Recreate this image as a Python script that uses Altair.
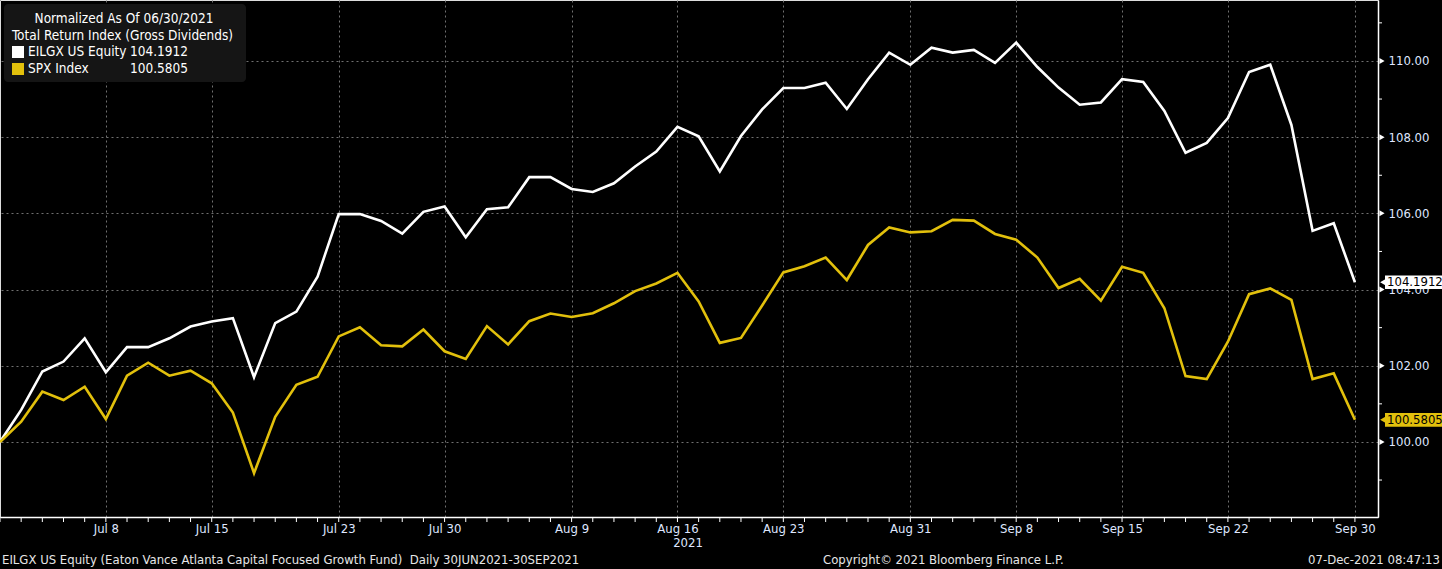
import altair as alt
import pandas as pd

# ---------------- data ----------------
dates = [
    "2021-06-30", "2021-07-01", "2021-07-02", "2021-07-06", "2021-07-07", "2021-07-08", "2021-07-09",
    "2021-07-12", "2021-07-13", "2021-07-14", "2021-07-15", "2021-07-16",
    "2021-07-19", "2021-07-20", "2021-07-21", "2021-07-22", "2021-07-23",
    "2021-07-26", "2021-07-27", "2021-07-28", "2021-07-29", "2021-07-30",
    "2021-08-02", "2021-08-03", "2021-08-04", "2021-08-05", "2021-08-06",
    "2021-08-09", "2021-08-10", "2021-08-11", "2021-08-12", "2021-08-13",
    "2021-08-16", "2021-08-17", "2021-08-18", "2021-08-19", "2021-08-20",
    "2021-08-23", "2021-08-24", "2021-08-25", "2021-08-26", "2021-08-27",
    "2021-08-30", "2021-08-31", "2021-09-01", "2021-09-02", "2021-09-03",
    "2021-09-07", "2021-09-08", "2021-09-09", "2021-09-10",
    "2021-09-13", "2021-09-14", "2021-09-15", "2021-09-16", "2021-09-17",
    "2021-09-20", "2021-09-21", "2021-09-22", "2021-09-23", "2021-09-24",
    "2021-09-27", "2021-09-28", "2021-09-29", "2021-09-30",
]

eilgx = [
    100.00, 100.84, 101.85, 102.11, 102.72, 101.83, 102.49, 102.49, 102.72, 103.03,
    103.16, 103.25, 101.70, 103.12, 103.42, 104.34, 105.98, 105.98, 105.80, 105.47,
    106.04, 106.18, 105.37, 106.11, 106.16, 106.95, 106.95, 106.64, 106.56, 106.79,
    107.23, 107.62, 108.27, 108.02, 107.10, 108.03, 108.73, 109.29, 109.29, 109.43,
    108.74, 109.52, 110.22, 109.90, 110.35, 110.22, 110.29, 109.95, 110.48, 109.84,
    109.30, 108.85, 108.91, 109.52, 109.45, 108.69, 107.59, 107.85, 108.50, 109.71,
    109.90, 108.32, 105.54, 105.74, 104.1912,
]

spx = [
    100.00, 100.53, 101.32, 101.10, 101.45, 100.60, 101.74, 102.08, 101.74, 101.87,
    101.54, 100.77, 99.18, 100.66, 101.50, 101.71, 102.77, 103.01, 102.54, 102.51,
    102.95, 102.38, 102.18, 103.04, 102.56, 103.17, 103.37, 103.28, 103.38, 103.64,
    103.96, 104.16, 104.44, 103.69, 102.60, 102.73, 103.58, 104.45, 104.61, 104.84,
    104.25, 105.17, 105.63, 105.50, 105.53, 105.83, 105.81, 105.46, 105.31, 104.84,
    104.04, 104.28, 103.71, 104.60, 104.44, 103.51, 101.73, 101.65, 102.63, 103.88,
    104.03, 103.73, 101.65, 101.80, 100.5805,
]

series_names = ["EILGX US Equity", "SPX Index"]
series_colors = ["#ffffff", "#e2c00c"]
last_labels = ["104.1912", "100.5805"]

tick_idx = [5, 10, 16, 21, 27, 32, 37, 43, 48, 53, 58, 64]
tick_labels = ["Jul 8", "Jul 15", "Jul 23", "Jul 30", "Aug 9", "Aug 16",
               "Aug 23", "Aug 31", "Sep 8", "Sep 15", "Sep 22", "Sep 30"]
y_major = [100, 102, 104, 106, 108, 110]
y_minor = [99, 101, 103, 105, 107, 109, 111]

legend_title = ["Normalized As Of 06/30/2021", "Total Return Index (Gross Dividends)"]
footer_left = "EILGX US Equity (Eaton Vance Atlanta Capital Focused Growth Fund)\u00a0 Daily 30JUN2021-30SEP2021"
footer_mid = "Copyright\u00a9 2021 Bloomberg Finance L.P."
footer_right = "07-Dec-2021 08:47:13"
year_label = "2021"

# ---------------- layout ----------------
FONT = "Liberation Sans Narrow, DejaVu Sans Condensed, Arial Narrow, Roboto, sans-serif"
W, H = 1378, 517
LABEL_COLOR = "#dfe6ff"
GRID_COLOR = "#707070"
FS = 13

n = len(dates)
df = pd.DataFrame({
    "idx": list(range(n)) * 2,
    "date": dates * 2,
    "value": eilgx + spx,
    "series": [series_names[0]] * n + [series_names[1]] * n,
})

xscale = alt.Scale(domain=[0, 65.09], nice=False, zero=False)
yscale = alt.Scale(domain=[98.03, 111.6], nice=False, zero=False)
color = alt.Color("series:N", scale=alt.Scale(domain=series_names, range=series_colors), legend=None)

label_expr = " : ".join(f"datum.value == {i} ? '{l}'" for i, l in zip(tick_idx, tick_labels)) + " : ''"

x_axis = alt.Axis(
    values=tick_idx, labelExpr=label_expr, grid=True, gridColor=GRID_COLOR,
    gridDash=[2, 3], gridWidth=1, domainColor="#ffffff", domainWidth=1.5,
    ticks=False, labelColor=LABEL_COLOR, labelFontSize=FS, labelPadding=5,
    labelFlush=False, title=None)
y_axis = alt.Axis(
    orient="right", values=y_major, format=".2f", grid=True, gridColor=GRID_COLOR,
    gridDash=[2, 3], gridWidth=1, domainColor="#ffffff", domainWidth=1.5,
    ticks=False, labelColor=LABEL_COLOR, labelFontSize=FS, labelPadding=10,
    title=None)

lines = alt.Chart(df).mark_line(strokeWidth=2.6).encode(
    x=alt.X("idx:Q", scale=xscale, axis=x_axis),
    y=alt.Y("value:Q", scale=yscale, axis=y_axis),
    color=color,
)

day_ticks = alt.Chart(pd.DataFrame({"idx": list(range(n))})).mark_rule(
    color="#ffffff", strokeWidth=1).encode(
    x=alt.X("idx:Q", scale=xscale, axis=x_axis),
    y=alt.value(H), y2=alt.value(H + 5),
)

minor_ticks = alt.Chart(pd.DataFrame({"v": y_minor})).mark_rule(
    color="#ffffff", strokeWidth=1).encode(
    y=alt.Y("v:Q", scale=yscale, axis=y_axis),
    x=alt.value(W), x2=alt.value(W + 4),
)

major_ticks = alt.Chart(pd.DataFrame({"v": y_major})).mark_point(
    shape="triangle-right", filled=True, size=36, color="#ffffff", opacity=1).encode(
    y=alt.Y("v:Q", scale=yscale, axis=y_axis),
    x=alt.value(W + 4),
)

end_df = pd.DataFrame({
    "series": series_names,
    "value": [eilgx[-1], spx[-1]],
    "label": last_labels,
})
end_base = alt.Chart(end_df)
end_box = end_base.mark_rect().transform_calculate(
    lo="datum.value - 0.18", hi="datum.value + 0.18").encode(
    y=alt.Y("lo:Q", scale=yscale, axis=y_axis), y2="hi:Q",
    x=alt.value(W + 7), x2=alt.value(1442),
    fill=color,
)
end_arrow = end_base.mark_point(shape="triangle-left", filled=True, size=80, opacity=1).encode(
    y=alt.Y("value:Q", scale=yscale, axis=y_axis),
    x=alt.value(W + 6),
    fill=color,
)
end_text = end_base.mark_text(align="left", baseline="middle", fontSize=FS, color="#000000").encode(
    y=alt.Y("value:Q", scale=yscale, axis=y_axis),
    x=alt.value(W + 9),
    text="label:N",
)

# legend box
one = pd.DataFrame({"k": [0]})
LFS = 13.5
leg_box = alt.Chart(one).mark_rect(fill="#151515", cornerRadius=4).encode(
    x=alt.value(4), x2=alt.value(246), y=alt.value(4), y2=alt.value(82))
leg_t1 = alt.Chart(one).mark_text(align="center", baseline="middle", fontSize=LFS,
                                  color="#ffffff", text=legend_title[0]).encode(
    x=alt.value(124), y=alt.value(19))
leg_t2 = alt.Chart(one).mark_text(align="left", baseline="middle", fontSize=LFS,
                                  color="#ffffff", text=legend_title[1]).encode(
    x=alt.value(12), y=alt.value(36))

leg_layers = []
for i, (name, col, lab) in enumerate(zip(series_names, series_colors, last_labels)):
    yc = 52 + 17 * i
    leg_layers.append(alt.Chart(one).mark_rect(fill=col).encode(
        x=alt.value(12), x2=alt.value(24), y=alt.value(yc - 6), y2=alt.value(yc + 6)))
    leg_layers.append(alt.Chart(one).mark_text(
        align="left", baseline="middle", fontSize=LFS, color="#ffffff", text=name).encode(
        x=alt.value(28), y=alt.value(yc)))
    leg_layers.append(alt.Chart(one).mark_text(
        align="left", baseline="middle", fontSize=LFS, color="#ffffff", text=lab).encode(
        x=alt.value(130), y=alt.value(yc)))

# footer
foot_l = alt.Chart(one).mark_text(align="left", baseline="middle", fontSize=FS,
                                  color="#e6e6e6", text=footer_left).encode(
    x=alt.value(2), y=alt.value(560))
foot_m = alt.Chart(one).mark_text(align="left", baseline="middle", fontSize=FS,
                                  color="#e6e6e6", text=footer_mid).encode(
    x=alt.value(823), y=alt.value(560))
foot_r = alt.Chart(one).mark_text(align="right", baseline="middle", fontSize=FS,
                                  color="#e6e6e6", text=footer_right).encode(
    x=alt.value(1440), y=alt.value(560))
year = alt.Chart(one).mark_text(align="center", baseline="middle", fontSize=FS,
                                color=LABEL_COLOR, text=year_label).encode(
    x=alt.value(688), y=alt.value(543))

chart = alt.layer(
    lines, day_ticks, minor_ticks, major_ticks,
    end_box, end_arrow, end_text,
    leg_box, leg_t1, leg_t2, *leg_layers,
    foot_l, foot_m, foot_r, year,
).properties(
    width=W, height=H, background="#000000",
    padding={"left": 0, "top": 0, "right": 64, "bottom": 52},
    autosize=alt.AutoSizeParams(type="none"),
).configure_view(stroke=None).configure(font=FONT)

chart.save("out.html", embed_options={"renderer": "svg", "actions": False})
